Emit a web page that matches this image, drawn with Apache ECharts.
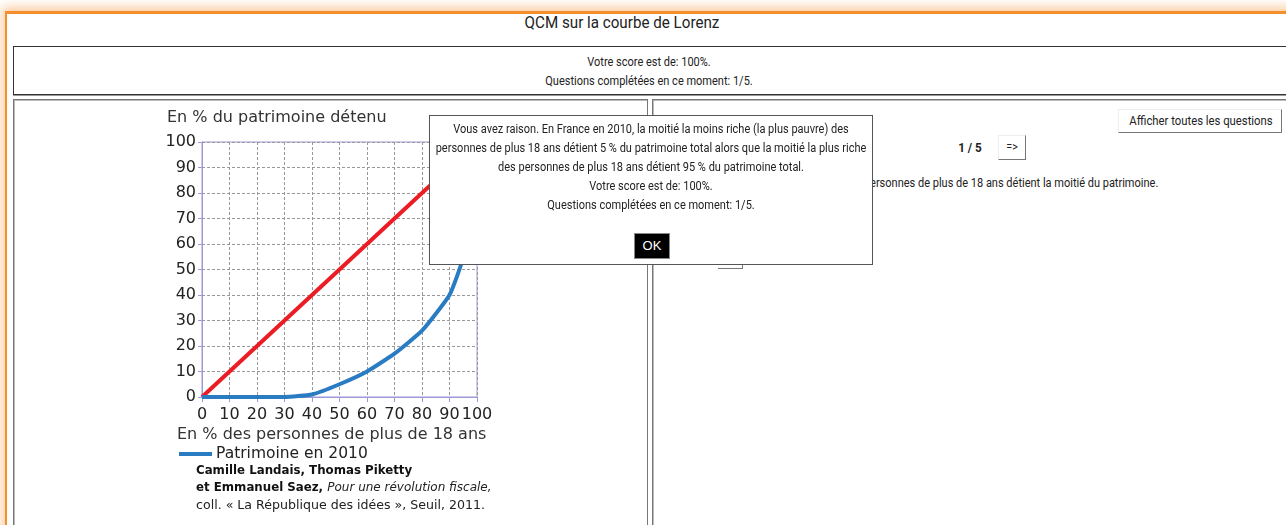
<!DOCTYPE html>
<html>
<head>
<meta charset="utf-8">
<script src="https://cdn.jsdelivr.net/npm/echarts@6/dist/echarts.min.js"></script>
<style>
  html, body { margin: 0; padding: 0; background: #fff; width: 1286px; height: 525px; overflow: hidden; }
  body { position: relative; font-family: "Roboto", sans-serif; color: #222; }
  .abs { position: absolute; }
  /* texte "condensé" : Roboto resserré horizontalement */
  .t { position: absolute; white-space: nowrap; text-align: center; transform-origin: center; }
  #frame { left: 5px; top: 11px; width: 1400px; height: 600px; border-top: 3px solid #f58f2e; border-left: 2px solid #f58f2e;
           box-shadow: -3px -4px 10px rgba(245, 143, 46, 0.45); }
  #titre { left: 222px; top: 12px; width: 800px; font-size: 16.5px; line-height: 22px; transform: scaleX(0.92); }
  #score { left: 13px; top: 46px; width: 1300px; height: 49px; border: 1px solid #333; box-shadow: 0 1px 0 #999; box-sizing: border-box; }
  #scoretxt { left: 235px; top: 5px; width: 800px; font-size: 12.5px; line-height: 19px; transform: scaleX(0.88); }
  .panel { top: 99px; height: 500px; border: 1px solid #777; box-shadow: inset 1px 1px 0 #bbb; box-sizing: border-box; }
  #pgauche { left: 13px; width: 635px; }
  #pdroite { left: 652px; width: 700px; }
  #chart { left: 150px; top: 100px; width: 400px; height: 420px; }
  .btn { background: #fff; border: 1px solid #eee; border-right: 1px solid #777; border-bottom: 1px solid #777; box-sizing: border-box; }
  #afficher { left: 1118px; top: 109px; width: 164px; height: 24px; }
  #affichertxt { left: -18px; top: 0; width: 200px; font-size: 13px; line-height: 22px; transform: scaleX(0.87); }
  #compte { left: 940px; top: 139px; width: 60px; font-size: 13px; font-weight: bold; line-height: 18px; transform: scaleX(0.9); }
  #suivant { left: 998px; top: 135px; width: 28px; height: 25px; }
  #suivanttxt { left: 0; top: 0; width: 26px; font-size: 12px; line-height: 23px; transform: scaleX(0.9); }
  #question { right: 128px; top: 175px; font-size: 12.5px; line-height: 16px; transform: scaleX(0.88); transform-origin: right; }
  #cache { left: 718px; top: 240px; width: 25px; height: 29px; border-left: none; border-top: none; }
  #modal { left: 429px; top: 115px; width: 444px; height: 150px; border: 1px solid #555; background: #fff; box-sizing: border-box; z-index: 10; }
  #modaltxt { left: -33px; top: 3px; width: 508px; font-size: 12.5px; line-height: 19px; transform: scaleX(0.88); }
  #ok { left: 204px; top: 117px; width: 36px; height: 26px; background: #000; color: #fff; border: 1px solid #888; text-align: center;
        box-sizing: border-box; font-family: "Liberation Sans", Arial, sans-serif; font-size: 13px; line-height: 24px; }
</style>
</head>
<body>
<div id="frame" class="abs"></div>
<div id="titre" class="t">QCM sur la courbe de Lorenz</div>
<div id="score" class="abs">
  <div id="scoretxt" class="t"><div>Votre score est de: 100%.</div><div>Questions complétées en ce moment: 1/5.</div></div>
</div>
<div id="pgauche" class="abs panel"></div>
<div id="pdroite" class="abs panel"></div>
<div id="chart" class="abs"></div>
<div id="afficher" class="abs btn"><div id="affichertxt" class="t">Afficher toutes les questions</div></div>
<div id="compte" class="t">1 / 5</div>
<div id="suivant" class="abs btn"><div id="suivanttxt" class="t">=&gt;</div></div>
<div id="question" class="t">La moitié la plus riche des personnes de plus de 18 ans détient la moitié du patrimoine.</div>
<div id="cache" class="abs btn"></div>
<div id="modal" class="abs">
  <div id="modaltxt" class="t">
    <div>Vous avez raison. En France en 2010, la moitié la moins riche (la plus pauvre) des</div>
    <div>personnes de plus 18 ans détient 5 % du patrimoine total alors que la moitié la plus riche</div>
    <div>des personnes de plus 18 ans détient 95 % du patrimoine total.</div>
    <div>Votre score est de: 100%.</div>
    <div>Questions complétées en ce moment: 1/5.</div>
  </div>
  <div id="ok" class="abs">OK</div>
</div>
<script>
// % des personnes de plus de 18 ans (axe x)
var pctPersonnes = [0, 10, 20, 30, 40, 50, 60, 70, 80, 90, 95, 100];
// % du patrimoine détenu, 2010
var patrimoine2010 = [0, 0, 0, 0, 1, 5, 10, 17, 26, 40, 55, 100];
// droite d'égalité
var egaliteX = [0, 100];
var egaliteY = [0, 100];

var violet = '#9d98d8';
var police = 'DejaVu Sans';

var echar = echarts.init(document.getElementById('chart'));
var option = {
    animation: false,
    grid: {
        left: 52, top: 42, width: 275, height: 255,
        show: true, borderColor: violet, borderWidth: 1
    },
    legend: {
        data: ['Patrimoine en 2010'],
        left: 24, top: 341,
        icon: 'rect', itemWidth: 33, itemHeight: 4, itemGap: 4,
        textStyle: { fontFamily: police, fontSize: 15.5, color: '#222', padding: [0, 0, 0, -1] }
    },
    xAxis: {
        type: 'value', min: 0, max: 100, interval: 10,
        axisLine: { lineStyle: { color: violet, width: 1 } },
        axisTick: { show: true, length: 5, lineStyle: { color: violet } },
        axisLabel: { fontFamily: police, fontSize: 16, color: '#222', margin: 10 },
        splitLine: { show: true, lineStyle: { color: '#999', type: [3, 2] } }
    },
    yAxis: {
        type: 'value', min: 0, max: 100, interval: 10,
        axisLine: { show: true, lineStyle: { color: violet, width: 1 } },
        axisTick: { show: true, length: 4, lineStyle: { color: violet } },
        axisLabel: { fontFamily: police, fontSize: 16, color: '#222', margin: 6 },
        splitLine: { show: true, lineStyle: { color: '#999', type: [3, 2] } }
    },
    graphic: [
        { type: 'text', left: 17, top: 10,
          style: { text: 'En % du patrimoine détenu', font: '16px "DejaVu Sans"', fill: '#333' } },
        { type: 'text', left: 27, top: 327,
          style: { text: 'En % des personnes de plus de 18 ans', font: '16px "DejaVu Sans"', fill: '#333' } },
        { type: 'text', left: 46, top: 362,
          style: {
              text: '{b|Camille Landais, Thomas Piketty}\n{b|et Emmanuel Saez, }{i|Pour une révolution fiscale,}\n{r|coll. « La République des idées », Seuil, 2011.}',
              lineHeight: 17.5,
              rich: {
                  b: { font: 'bold 11.8px "DejaVu Sans"', fill: '#111', lineHeight: 17.5 },
                  i: { font: 'italic 12px "DejaVu Sans"', fill: '#222', lineHeight: 17.5 },
                  r: { font: '12.6px "DejaVu Sans"', fill: '#222', lineHeight: 17.5 }
              }
          } }
    ],
    series: [
        {
            name: 'Égalité',
            type: 'line',
            data: egaliteX.map(function (x, i) { return [x, egaliteY[i]]; }),
            symbol: 'none',
            lineStyle: { color: '#ec1c24', width: 4 },
            itemStyle: { color: '#ec1c24' }
        },
        {
            name: 'Patrimoine en 2010',
            type: 'line',
            data: pctPersonnes.map(function (x, i) { return [x, patrimoine2010[i]]; }),
            symbol: 'none',
            smooth: 0.15,
            lineStyle: { color: '#2a7cc2', width: 4 },
            itemStyle: { color: '#2a7cc2' }
        }
    ]
};
echar.clear();
echar.setOption(option);
</script>
</body>
</html>
